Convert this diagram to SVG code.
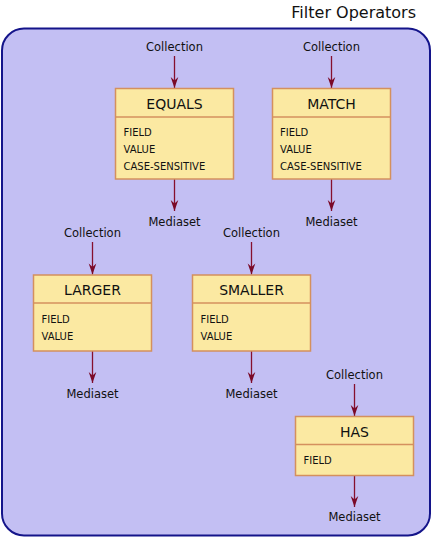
<svg xmlns="http://www.w3.org/2000/svg" width="441" height="549" viewBox="0 0 441 549">
<style>
text{font-family:"DejaVu Sans","Liberation Sans",sans-serif;fill:#111}
.title{font-size:16px}
.lbl{font-size:11.5px;text-anchor:middle}
.hdr{font-size:14px;text-anchor:middle}
.fld{font-size:10px}
.box{fill:#fbe9a2;stroke:#d4905e;stroke-width:1.5}
.sep{stroke:#d4905e;stroke-width:1.5}
.con{stroke:#86102e;stroke-width:1.3;fill:none;marker-end:url(#ah)}
</style>
<defs>
<marker id="ah" markerUnits="userSpaceOnUse" markerWidth="13" markerHeight="10" viewBox="-12 -5 13 10" refX="0" refY="0" orient="auto">
<path d="M0,0 L-11,-3.8 L-7.5,0 L-11,3.8 Z" fill="#7a0a28"/>
</marker>
</defs>
<rect width="441" height="549" fill="#ffffff"/>
<text class="title" x="416" y="18" text-anchor="end">Filter Operators</text>
<rect x="2" y="28.5" width="428" height="507" rx="22" fill="#c3bff3" stroke="#14148a" stroke-width="2"/>
<g id="connectors">
<path class="con" d="M174.5,56 V88"/>
<path class="con" d="M174.5,179 V211"/>
<path class="con" d="M331.5,56 V88"/>
<path class="con" d="M331.5,179 V211"/>
<path class="con" d="M92.5,242 V274.5"/>
<path class="con" d="M92.5,351 V383"/>
<path class="con" d="M251.5,242 V274.5"/>
<path class="con" d="M251.5,351 V383"/>
<path class="con" d="M354.5,384 V416"/>
<path class="con" d="M354.5,475.5 V507"/>
</g>
<g id="labels">
<text class="lbl" x="174.5" y="51">Collection</text>
<text class="lbl" x="174.5" y="226">Mediaset</text>
<text class="lbl" x="331.5" y="51">Collection</text>
<text class="lbl" x="331.5" y="226">Mediaset</text>
<text class="lbl" x="92.5" y="237">Collection</text>
<text class="lbl" x="92.5" y="398">Mediaset</text>
<text class="lbl" x="251.5" y="237">Collection</text>
<text class="lbl" x="251.5" y="398">Mediaset</text>
<text class="lbl" x="354.5" y="379">Collection</text>
<text class="lbl" x="354.5" y="521">Mediaset</text>
</g>
<g id="equals">
<rect class="box" x="115.5" y="88.5" width="118" height="90.5"/>
<line class="sep" x1="115.5" y1="117" x2="233.5" y2="117"/>
<text class="hdr" x="174.5" y="108.5">EQUALS</text>
<text class="fld" x="123.5" y="136">FIELD</text>
<text class="fld" x="123.5" y="153">VALUE</text>
<text class="fld" x="123.5" y="170">CASE-SENSITIVE</text>
</g>
<g id="match">
<rect class="box" x="272.5" y="88.5" width="118" height="90.5"/>
<line class="sep" x1="272.5" y1="117" x2="390.5" y2="117"/>
<text class="hdr" x="331.5" y="108.5">MATCH</text>
<text class="fld" x="280" y="136">FIELD</text>
<text class="fld" x="280" y="153">VALUE</text>
<text class="fld" x="280" y="170">CASE-SENSITIVE</text>
</g>
<g id="larger">
<rect class="box" x="33.5" y="275" width="118" height="76"/>
<line class="sep" x1="33.5" y1="303" x2="151.5" y2="303"/>
<text class="hdr" x="92.5" y="295">LARGER</text>
<text class="fld" x="41.5" y="323">FIELD</text>
<text class="fld" x="41.5" y="340">VALUE</text>
</g>
<g id="smaller">
<rect class="box" x="192.5" y="275" width="118" height="76"/>
<line class="sep" x1="192.5" y1="303" x2="310.5" y2="303"/>
<text class="hdr" x="251.5" y="295">SMALLER</text>
<text class="fld" x="200.5" y="323">FIELD</text>
<text class="fld" x="200.5" y="340">VALUE</text>
</g>
<g id="has">
<rect class="box" x="295.5" y="416.5" width="118" height="59"/>
<line class="sep" x1="295.5" y1="444.5" x2="413.5" y2="444.5"/>
<text class="hdr" x="354.5" y="436.5">HAS</text>
<text class="fld" x="303.5" y="464">FIELD</text>
</g>
</svg>
